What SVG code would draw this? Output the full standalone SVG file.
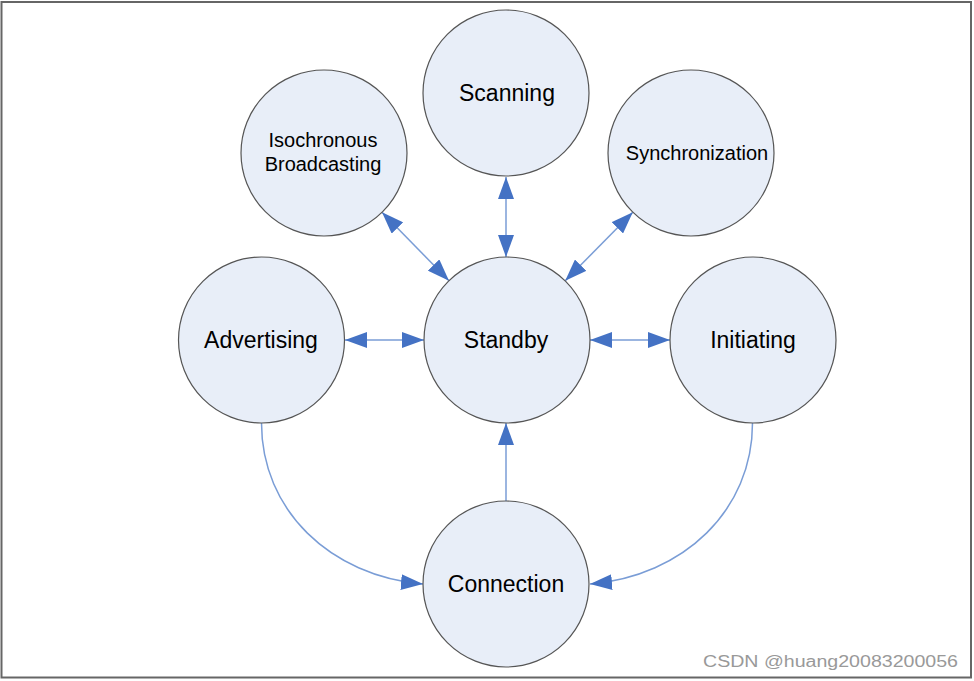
<svg xmlns="http://www.w3.org/2000/svg" width="974" height="681" viewBox="0 0 974 681">
<style>
.node{fill:#E8EEF8;stroke:#555;stroke-width:1.2}
.lbl{font-family:"Liberation Sans",Arial,sans-serif;font-size:23px;fill:#000;text-anchor:middle}
.sm{font-size:20px}
.edge{fill:none;stroke:#7A9DD6;stroke-width:1.5}
.wm{font-family:"Liberation Sans",Arial,sans-serif;font-size:16px;fill:#999}
</style>
<defs>
<marker id="ah" viewBox="0 0 22 16" refX="22" refY="8" markerWidth="22" markerHeight="16" markerUnits="userSpaceOnUse" orient="auto-start-reverse">
<path d="M0,0 L22,8 L0,16 z" fill="#4472C4"/>
</marker>
</defs>
<rect x="0" y="0" width="974" height="681" fill="#fff"/>
<rect x="1.5" y="2" width="969.5" height="675.5" fill="none" stroke="#666" stroke-width="2"/>
<g id="connectors">
<line class="edge" x1="382" y1="212.3" x2="449" y2="280.7" marker-start="url(#ah)" marker-end="url(#ah)"/>
<line class="edge" x1="506" y1="177" x2="506" y2="257" marker-start="url(#ah)" marker-end="url(#ah)"/>
<line class="edge" x1="632.8" y1="212.2" x2="565.2" y2="280.8" marker-start="url(#ah)" marker-end="url(#ah)"/>
<line class="edge" x1="345" y1="340" x2="424" y2="340" marker-start="url(#ah)" marker-end="url(#ah)"/>
<line class="edge" x1="590" y1="340" x2="670" y2="340" marker-start="url(#ah)" marker-end="url(#ah)"/>
<line class="edge" x1="506" y1="501" x2="506" y2="423" marker-end="url(#ah)"/>
<path class="edge" d="M261.5,423 C261.5,510 330,576 423,584" marker-end="url(#ah)"/>
<path class="edge" d="M752.5,423 C752.5,510 684,576 590,584" marker-end="url(#ah)"/>
</g>
<g id="scanning"><circle class="node" cx="506" cy="93" r="83"/><text class="lbl" x="507" y="101">Scanning</text></g>
<g id="isochronous"><circle class="node" cx="324" cy="153" r="83"/><text class="lbl sm" x="323" y="147">Isochronous</text><text class="lbl sm" x="323" y="171">Broadcasting</text></g>
<g id="synchronization"><circle class="node" cx="691" cy="153" r="83"/><text class="lbl sm" x="697" y="160">Synchronization</text></g>
<g id="advertising"><circle class="node" cx="261.5" cy="340" r="83"/><text class="lbl" x="261" y="348">Advertising</text></g>
<g id="standby"><circle class="node" cx="507" cy="340" r="83"/><text class="lbl" x="506" y="348">Standby</text></g>
<g id="initiating"><circle class="node" cx="753" cy="340" r="83"/><text class="lbl" x="753" y="348">Initiating</text></g>
<g id="connection"><circle class="node" cx="506" cy="584" r="83"/><text class="lbl" x="506" y="592">Connection</text></g>
<text class="wm" x="703" y="667" textLength="255" lengthAdjust="spacingAndGlyphs">CSDN @huang20083200056</text>
</svg>
